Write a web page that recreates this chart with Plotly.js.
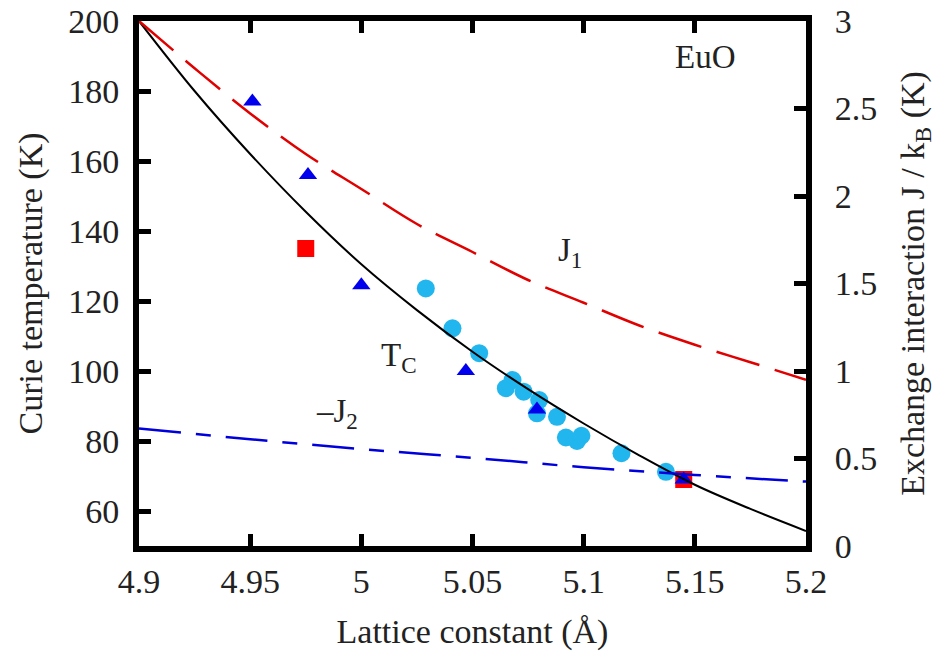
<!DOCTYPE html>
<html>
<head>
<meta charset="utf-8">
<script src="https://cdn.plot.ly/plotly-3.0.1.min.js"></script>
<style>
  html, body { margin: 0; padding: 0; background: #fff; }
  #chart { width: 938px; height: 656px; }
  #chart svg text { font-family: "Liberation Serif", "Times New Roman", serif !important; }
</style>
</head>
<body>
<div id="chart"></div>
<script>
// Lattice constant grid (Å) for the calculated curves
const latticeGrid = [4.900, 4.925, 4.950, 4.975, 5.000, 5.025, 5.050, 5.075, 5.100, 5.125, 5.150, 5.175, 5.200];
// Calculated Curie temperature T_C (K)
const curieCalc = [200, 180, 162, 145.5, 130.5, 117.4, 105.5, 94.8, 85, 75.9, 67.5, 60.6, 54.3];
// Nearest-neighbour exchange J1 / kB (K)
const j1Values = [3.0, 2.73, 2.472, 2.24, 2.04, 1.84, 1.68, 1.52, 1.39, 1.26, 1.15, 1.05, 0.95];

// Next-nearest-neighbour exchange -J2 / kB (K)
const j2Lattice = [4.90, 4.95, 5.00, 5.05, 5.10, 5.15, 5.20];
const minusJ2Values = [0.672, 0.61, 0.554, 0.504, 0.45, 0.406, 0.368];

// Measured T_C (circles)
const circleLattice = [5.029, 5.041, 5.053, 5.065, 5.068, 5.073, 5.080, 5.079, 5.088, 5.092, 5.097, 5.099, 5.117, 5.137];
const circleTc = [123.6, 112.2, 105.1, 95.1, 97.4, 94.1, 91.7, 87.9, 86.9, 81, 80, 81.5, 76.5, 71.2];

// Other calculations (squares and triangles)
const squareLattice = [4.975, 5.145];
const squareTc = [135, 69];
const triangleLattice = [4.951, 4.976, 5.000, 5.047, 5.079, 5.145];
const triangleTc = [177, 156, 124.5, 100, 89, 69];

const xTicks = [4.9, 4.95, 5.0, 5.05, 5.1, 5.15, 5.2];
const xTickText = ['4.9', '4.95', '5', '5.05', '5.1', '5.15', '5.2'];
const yTicks = [60, 80, 100, 120, 140, 160, 180, 200];
const y2Ticks = [0, 0.5, 1, 1.5, 2, 2.5, 3];
const y2TickText = ['0', '0.5', '1', '1.5', '2', '2.5', '3'];

const ink = '#222';

const traces = [
  {
    x: circleLattice, y: circleTc, type: 'scatter', mode: 'markers',
    marker: { symbol: 'circle', size: 18, color: '#22b6ee' },
    hoverinfo: 'skip', showlegend: false
  },
  {
    x: squareLattice, y: squareTc, type: 'scatter', mode: 'markers',
    marker: { symbol: 'square', size: 17, color: '#ff0000' },
    hoverinfo: 'skip', showlegend: false
  },
  {
    x: triangleLattice, y: triangleTc, type: 'scatter', mode: 'markers',
    marker: { symbol: 'triangle-up', size: 16, color: '#0000ee' },
    hoverinfo: 'skip', showlegend: false
  },
  {
    x: latticeGrid, y: curieCalc, type: 'scatter', mode: 'lines',
    line: { color: '#000', width: 2, shape: 'spline' },
    hoverinfo: 'skip', showlegend: false
  },
  {
    x: latticeGrid, y: j1Values, type: 'scatter', mode: 'lines', yaxis: 'y2',
    line: { color: '#e00000', width: 2.5, dash: '45px,16px', shape: 'spline' },
    hoverinfo: 'skip', showlegend: false
  },
  {
    x: j2Lattice, y: minusJ2Values, type: 'scatter', mode: 'lines', yaxis: 'y2',
    line: { color: '#0000dd', width: 2.5, dash: '42px,15px,15px,15px', shape: 'spline' },
    hoverinfo: 'skip', showlegend: false
  }
];

// One serif family for the whole figure; per-element fonts only set size
const layout = {
  width: 938, height: 656,
  margin: { l: 139, r: 132, t: 21, b: 110 },
  paper_bgcolor: '#fff', plot_bgcolor: '#fff',
  font: { family: 'Times New Roman', size: 34, color: ink },
  showlegend: false,
  xaxis: {
    range: [4.9, 5.2], tickvals: xTicks, ticktext: xTickText,
    ticks: 'inside', ticklen: 12, tickwidth: 5, tickcolor: '#000',
    showline: true, linewidth: 6, linecolor: '#000', mirror: 'ticks',
    showgrid: false, zeroline: false,
    tickfont: { size: 34 },
    ticklabelstandoff: 0,
    title: { text: 'Lattice constant (Å)', font: { size: 34 }, standoff: 22 }
  },
  yaxis: {
    range: [50, 200], tickvals: yTicks,
    ticks: 'inside', ticklen: 12, tickwidth: 5, tickcolor: '#000',
    showline: true, linewidth: 6, linecolor: '#000', mirror: false,
    showgrid: false, zeroline: false,
    tickfont: { size: 34 },
    ticklabelstandoff: 7,
    title: { text: 'Curie temperature (K)', font: { size: 34 }, standoff: 17 }
  },
  yaxis2: {
    range: [0, 3], tickvals: y2Ticks, ticktext: y2TickText,
    overlaying: 'y', side: 'right',
    ticks: 'inside', ticklen: 12, tickwidth: 5, tickcolor: '#000',
    showline: true, linewidth: 6, linecolor: '#000',
    showgrid: false, zeroline: false,
    tickfont: { size: 34 },
    ticklabelstandoff: 16,
    title: { text: 'Exchange interaction J / k<sub>B</sub> (K)', font: { size: 34 }, standoff: 26 }
  },
  annotations: [
    { x: 5.1546, y: 189.7, xref: 'x', yref: 'y', text: 'EuO', showarrow: false, font: { size: 33 } },
    { x: 5.094, y: 134, xref: 'x', yref: 'y', text: 'J<sub>1</sub>', showarrow: false, font: { size: 33 } },
    { x: 5.017, y: 104, xref: 'x', yref: 'y', text: 'T<sub>C</sub>', showarrow: false, font: { size: 33 } },
    { x: 4.989, y: 88, xref: 'x', yref: 'y', text: '–J<sub>2</sub>', showarrow: false, font: { size: 33 } }
  ]
};

Plotly.newPlot('chart', traces, layout, { displayModeBar: false });
</script>
</body>
</html>
